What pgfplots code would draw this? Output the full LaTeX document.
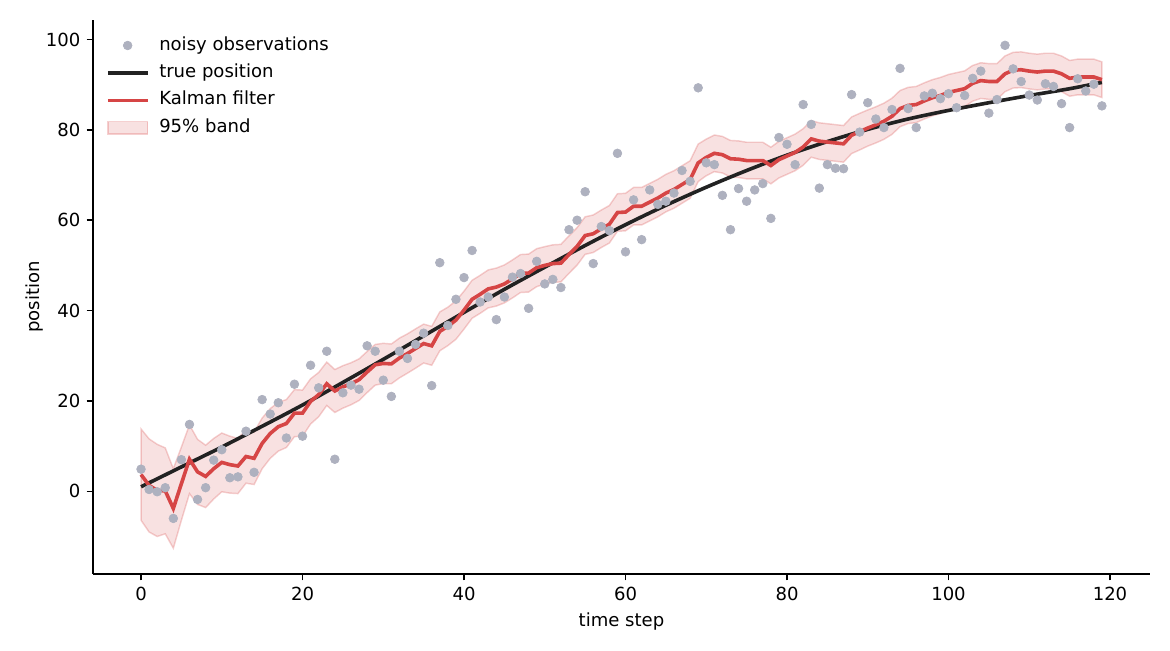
\documentclass[border=0pt]{standalone}
\usepackage{fontspec}
\setmainfont{DejaVu Sans}
\usepackage{pgfplots}
\pgfplotsset{compat=1.18}
\usepackage{pgfplotstable}
\usepgfplotslibrary{fillbetween}

\definecolor{obsgray}{RGB}{174,177,191}
\definecolor{kfred}{RGB}{214,69,69}
\definecolor{truek}{RGB}{34,34,34}

% t: time step, obs: noisy measurement, kf: filtered estimate, hw: half width of the 95% band
\pgfplotstableread{
t obs kf hw
0 4.9 3.7 10.1
1 0.4 1.3 10.3
2 -0.1 0.2 10.2
3 0.8 0.1 9.5
4 -6.0 -3.8 8.8
5 7.0 1.7 8.1
6 14.8 7.1 7.6
7 -1.8 4.3 7.2
8 0.8 3.3 6.9
9 6.9 5.0 6.7
10 9.2 6.4 6.5
11 3.0 5.9 6.3
12 3.2 5.6 6.1
13 13.3 7.7 5.9
14 4.2 7.3 5.8
15 20.3 10.6 5.6
16 17.1 12.8 5.5
17 19.6 14.3 5.4
18 11.8 15.0 5.3
19 23.7 17.3 5.2
20 12.2 17.3 5.1
21 27.9 19.9 5.0
22 22.9 21.4 4.9
23 31.0 23.8 4.8
24 7.1 22.2 4.75
25 21.8 23.1 4.7
26 23.5 23.8 4.65
27 22.6 24.7 4.6
28 32.2 26.4 4.55
29 31.0 28.0 4.5
30 24.6 28.3 4.45
31 21.0 28.2 4.4
32 31.0 29.5 4.4
33 29.4 30.5 4.35
34 32.5 31.6 4.35
35 35.0 32.7 4.3
36 23.4 32.2 4.3
37 50.6 35.4 4.3
38 36.7 36.5 4.25
39 42.5 37.9 4.25
40 47.3 40.1 4.2
41 53.3 42.5 4.2
42 41.9 43.6 4.2
43 43.0 44.8 4.2
44 38.0 45.2 4.2
45 43.0 45.9 4.2
46 47.4 47.0 4.2
47 48.2 48.2 4.2
48 40.5 48.3 4.2
49 50.9 49.5 4.2
50 45.9 50.0 4.15
51 46.9 50.4 4.15
52 45.1 50.5 4.15
53 57.9 52.4 4.15
54 60.0 54.2 4.15
55 66.3 56.6 4.15
56 50.4 57.0 4.15
57 58.6 58.1 4.15
58 57.7 59.1 4.15
59 74.8 61.7 4.15
60 53.0 61.8 4.15
61 64.5 63.1 4.15
62 55.7 63.1 4.15
63 66.7 64.0 4.15
64 63.5 64.9 4.15
65 64.2 66.0 4.15
66 66.0 66.8 4.15
67 71.0 67.9 4.15
68 68.6 69.0 4.15
69 89.3 72.7 4.15
70 72.7 73.9 4.05
71 72.3 74.8 4.05
72 65.5 74.5 4.05
73 57.9 73.6 4.05
74 67.0 73.5 4.05
75 64.2 73.2 4.05
76 66.7 73.2 4.05
77 68.1 73.2 4.05
78 60.4 72.1 4.05
79 78.3 73.4 4.05
80 76.8 74.2 4.05
81 72.3 75.0 4.05
82 85.6 76.2 4.05
83 81.2 78.0 4.05
84 67.1 77.5 4.05
85 72.3 77.3 4.05
86 71.5 77.1 4.05
87 71.4 76.9 4.05
88 87.8 78.8 4.05
89 79.5 79.6 4.05
90 86.0 80.4 4.0
91 82.4 81.1 4.0
92 80.5 81.9 4.0
93 84.5 83.0 4.0
94 93.6 84.7 4.0
95 84.7 85.4 4.0
96 80.5 85.6 4.0
97 87.5 86.4 4.0
98 88.1 87.1 4.0
99 86.9 87.6 4.0
100 88.0 88.3 3.95
101 84.9 88.7 3.95
102 87.6 89.1 3.95
103 91.4 90.3 3.95
104 93.0 90.9 3.95
105 83.7 90.7 3.95
106 86.7 90.7 3.95
107 98.7 92.4 3.95
108 93.5 93.2 3.95
109 90.7 93.3 3.95
110 87.7 93.0 3.95
111 86.6 92.8 3.95
112 90.2 93.0 3.95
113 89.6 93.0 3.95
114 85.8 92.4 3.95
115 80.5 91.4 3.95
116 91.3 91.7 3.95
117 88.6 91.7 3.95
118 90.1 91.7 3.95
119 85.3 91.1 3.95
}\kalman

% true trajectory
\pgfplotstableread{
t pos
0 1.0
5 5.4
10 9.8
15 14.4
20 19.1
25 24.1
30 29.2
35 34.4
40 39.6
45 44.7
50 49.6
55 54.4
60 59.0
65 63.3
70 67.3
75 71.0
80 74.4
85 77.4
90 80.1
95 82.4
100 84.3
105 86.0
110 87.6
115 89.1
119 90.5
}\truepos

\begin{document}
\begin{tikzpicture}
\begin{axis}[
  at={(0,0)}, anchor=south west,
  scale only axis, width=585.4pt, height=306.8pt,
  xmin=-5.95, xmax=124.95, ymin=-18.3, ymax=104.3,
  axis x line*=bottom, axis y line*=left,
  axis line style={line width=0.8pt, black},
  xtick={0,20,...,120}, ytick={0,20,...,100},
  tick align=outside, major tick length=3.5pt,
  tick style={line width=0.8pt, black},
  tick label style={font=\fontsize{10}{12}\selectfont},
  /pgf/number format/assume math mode=true,
  xlabel={time step}, ylabel={position},
  ylabel shift=-5.5pt,
  label style={font=\fontsize{10}{12}\selectfont},
  legend cell align=left,
  legend style={draw=none, fill=none, inner sep=0pt, column sep=3.5pt,
    at={(0,1)}, anchor=north west, xshift=7pt, yshift=-6.3pt,
    font=\fontsize{10}{12}\selectfont,
    nodes={text height=7.5pt, text depth=2.5pt, inner ysep=2.6pt}},
]
\addplot[draw=none, name path=hi, forget plot] table[x=t, y expr=\thisrow{kf}+\thisrow{hw}] {\kalman};
\addplot[draw=none, name path=lo, forget plot] table[x=t, y expr=\thisrow{kf}-\thisrow{hw}] {\kalman};

\addplot[obsgray, only marks, mark=*, mark size=2.4pt, mark options={draw=obsgray, fill=obsgray},
  legend image code/.code={\fill[obsgray] (11pt,0pt) circle (2.4pt);}]
  table[x=t, y=obs] {\kalman};
\addlegendentry{noisy observations}

\addplot[fill=kfred, fill opacity=0.16, draw=kfred, draw opacity=0.25, line width=0.8pt, forget plot]
  fill between[of=hi and lo];

\addplot[truek, line width=2pt, smooth,
  legend image code/.code={\draw[truek, line width=2pt] (0pt,0pt) -- (22pt,0pt);}]
  table[x=t, y=pos] {\truepos};
\addlegendentry{true position}

\addplot[kfred, line width=2pt,
  legend image code/.code={\draw[kfred, line width=2pt] (0pt,0pt) -- (22pt,0pt);}]
  table[x=t, y=kf] {\kalman};
\addlegendentry{Kalman filter}

\addlegendimage{legend image code/.code={\filldraw[fill=kfred, fill opacity=0.16, draw=kfred, draw opacity=0.25, line width=0.8pt] (0pt,-3.5pt) rectangle (22pt,3.5pt);}}
\addlegendentry{95\% band}
\end{axis}
\pgfresetboundingbox
\path (-51.5pt,-42.1pt) rectangle (596.5pt,317.9pt);
\end{tikzpicture}
\end{document}
